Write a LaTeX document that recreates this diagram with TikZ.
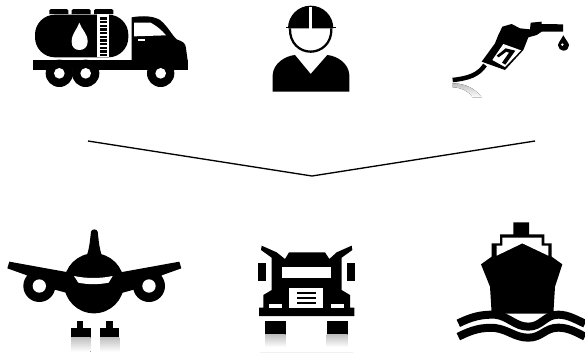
\documentclass[tikz,border=0pt]{standalone}
\begin{document}
\begin{tikzpicture}[x=.75pt,y=-.75pt,
  icon/.style={x=.25pt,y=-.25pt},
  ink/.style={fill=black,draw=none},
  gap/.style={fill=white,draw=none},
  shade/.style={top color=black!25,bottom color=white,draw=none},
  link/.style={draw=black,line width=1pt,line join=miter}]
\useasboundingbox[fill=white] (0,0) rectangle (585,354);

% tanker lorry
\begin{scope}[shift={(20,0)},icon]
  \fill[ink] (88,42) -- (88,31) -- (93,27) -- (140,27) -- (145,31) -- (145,42) -- cycle;
  \fill[ink] (155,42) -- (155,31) -- (160,27) -- (207,27) -- (212,31) -- (212,42) -- cycle;
  \fill[ink] (222,42) -- (222,31) -- (227,27) -- (275,27) -- (280,31) -- (280,42) -- cycle;
  \fill[ink,rounded corners=15pt] (45,44) rectangle (325,172);
  \fill[gap] (232,42) rectangle (268,172);
  \foreach \k in {52,63,...,162} \fill[ink] (240,\k) rectangle (262,\k+7);
  \fill[gap] (178,68) .. controls (172,88) and (155,100) .. (155,125) .. controls (155,142) and (165,150) .. (178,150) .. controls (191,150) and (203,142) .. (203,125) .. controls (203,100) and (184,88) .. (178,68) -- cycle;
  \fill[ink] (40,180) rectangle (505,210);
  \fill[ink] (335,182) -- (335,52) .. controls (370,46) and (400,48) .. (420,60) .. controls (445,80) and (455,105) .. (470,118) .. controls (490,125) and (497,130) .. (498,145) -- (503,182) -- cycle;
  \fill[gap] (342,68) -- (392,68) .. controls (410,78) and (425,90) .. (438,106) -- (342,109) -- cycle;
  \fill[gap] (355,117) rectangle (375,122);
  \foreach \c in {118,197,422} {
    \fill[ink] (\c,220) circle[radius=41*.25pt];
    \fill[gap] (\c,220) circle[radius=16*.25pt];
  }
\end{scope}

% worker
\begin{scope}[shift={(250,0)},icon]
  \fill[ink] (114,85) arc[start angle=180,end angle=0,radius=68*.25pt] -- cycle;
  \fill[ink] (108,80) rectangle (258,85);
  \fill[gap] (178,20) rectangle (186,86);
  \draw[line width=1.7pt] (120,85) .. controls (118,130) and (150,155) .. (182,155) .. controls (214,155) and (246,130) .. (244,85);
  \fill[ink] (68,275) -- (68,225) .. controls (70,190) and (105,168) .. (135,165) -- (182,222) -- (232,165) .. controls (262,168) and (296,190) .. (298,225) -- (298,275) -- cycle;
\end{scope}

% fuel nozzle
\begin{scope}[shift={(440,0)},icon]
  \fill[shade] (38,250) .. controls (75,250) and (105,265) .. (125,292) -- (98,292) .. controls (85,272) and (60,262) .. (38,262) -- cycle;
  \draw[line width=3.4pt] (38,240) .. controls (85,235) and (115,225) .. (135,195);
  \fill[ink] (125,185) -- (165,130) -- (175,105) -- (187,80) -- (215,72) -- (240,85) -- (270,88) -- (272,68) -- (305,65) -- (305,72) -- (369,73) -- (369,95) -- (305,95) -- (290,105) -- (265,112) -- (250,150) -- (195,210) -- cycle;
  \fill[gap] (190,132) -- (243,151) -- (195,201) -- (157,180) -- cycle;
  \fill[ink] (197,145) -- (226,152) -- (196,194) -- (186,188) -- (207,158) -- (199,155) -- (176,172) -- (170,167) -- cycle;
\end{scope}
\begin{scope}[shift={(530,10)},icon]
  \fill[ink] (100,76) .. controls (92,90) and (84,100) .. (84,106) .. controls (84,115) and (92,122) .. (100,122) .. controls (110,122) and (117,115) .. (117,106) .. controls (117,100) and (108,90) .. (100,76) -- cycle;
  \fill[gap] (97,104) circle[radius=4*.25pt];
\end{scope}

% connector
\coordinate (linkL) at (88,141);
\coordinate (linkM) at (312,176);
\coordinate (linkR) at (535,141);
\draw[link] (linkL) -- (linkM) -- (linkR);

% aeroplane
\begin{scope}[shift={(0,220)},icon]
  \fill[shade] (213,352) rectangle (272,395);
  \fill[shade] (300,352) rectangle (358,395);
  \fill[ink] (258,112) .. controls (268,90) and (270,60) .. (273,35) .. controls (275,26) and (291,26) .. (293,35) .. controls (296,60) and (298,90) .. (308,112) -- cycle;
  \fill[ink] (282,190) circle[radius=90*.25pt];
  \fill[ink] (28,125) -- (205,157) -- (205,220) -- (150,205) -- (78,165) -- (22,145) -- cycle;
  \fill[ink] (538,125) -- (361,157) -- (361,220) -- (416,205) -- (488,165) -- (544,145) -- cycle;
  \foreach \c in {118,447} {
    \fill[ink] (\c,198) circle[radius=48*.25pt];
    \fill[gap] (\c,198) circle[radius=20*.25pt];
  }
  \fill[gap] (222,168) .. controls (260,176) and (300,176) .. (338,168) -- (326,188) .. controls (295,194) and (265,194) .. (235,188) -- cycle;
  \fill[ink] (232,302) rectangle (250,325);
  \fill[ink] (213,325) rectangle (272,352);
  \fill[ink] (318,302) rectangle (338,325);
  \fill[ink] (300,325) rectangle (358,352);
\end{scope}

% front-on lorry
\begin{scope}[shift={(245,235)},icon]
  \fill[shade] (60,298) rectangle (122,336);
  \fill[shade] (245,298) rectangle (308,336);
  \fill[black!6] (45,350) rectangle (325,354);
  \fill[ink] (38,85) rectangle (62,138);
  \fill[ink] (305,85) rectangle (330,138);
  \fill[ink] (50,32) -- (95,52) -- (120,72) -- (132,52) -- (240,52) -- (253,72) -- (275,52) -- (320,32) -- (322,45) -- (290,68) -- (290,165) -- (315,180) -- (315,218) -- (328,218) -- (328,243) -- (42,243) -- (42,218) -- (55,218) -- (55,180) -- (80,165) -- (80,68) -- (48,45) -- cycle;
  \fill[gap] (110,97) rectangle (258,130);
  \fill[gap] (132,158) rectangle (235,220);
  \fill[ink] (155,170) rectangle (212,176);
  \fill[ink] (155,185) rectangle (212,191);
  \fill[ink] (155,201) rectangle (212,208);
  \fill[gap] (72,208) rectangle (110,220);
  \fill[gap] (258,208) rectangle (296,220);
  \fill[ink] (60,258) rectangle (122,298);
  \fill[ink] (245,258) rectangle (308,298);
\end{scope}

% ship
\begin{scope}[shift={(445,215)},icon]
  \fill[ink] (205,22) -- (252,22) -- (252,58) -- (298,58) -- (298,85) -- (320,85) -- (320,125) -- (352,148) -- (330,215) -- (325,296) -- (140,296) -- (135,215) -- (108,148) -- (140,125) -- (140,85) -- (165,85) -- (165,58) -- (205,58) -- cycle;
  \fill[gap] (172,68) -- (290,68) -- (290,92) -- (310,92) -- (310,122) -- (232,85) -- (155,122) -- (155,92) -- (172,92) -- cycle;
  \draw[line width=6pt] (40,325) .. controls (80,305) and (110,298) .. (150,299) .. controls (190,303) and (210,335) .. (250,335) .. controls (290,335) and (300,299) .. (340,299) .. controls (370,299) and (395,315) .. (420,326);
  \draw[line width=6pt] (40,365) .. controls (80,345) and (110,336) .. (150,339) .. controls (190,344) and (210,368) .. (250,368) .. controls (290,368) and (300,338) .. (340,338) .. controls (370,338) and (395,352) .. (420,365);
\end{scope}
\end{tikzpicture}
\end{document}
